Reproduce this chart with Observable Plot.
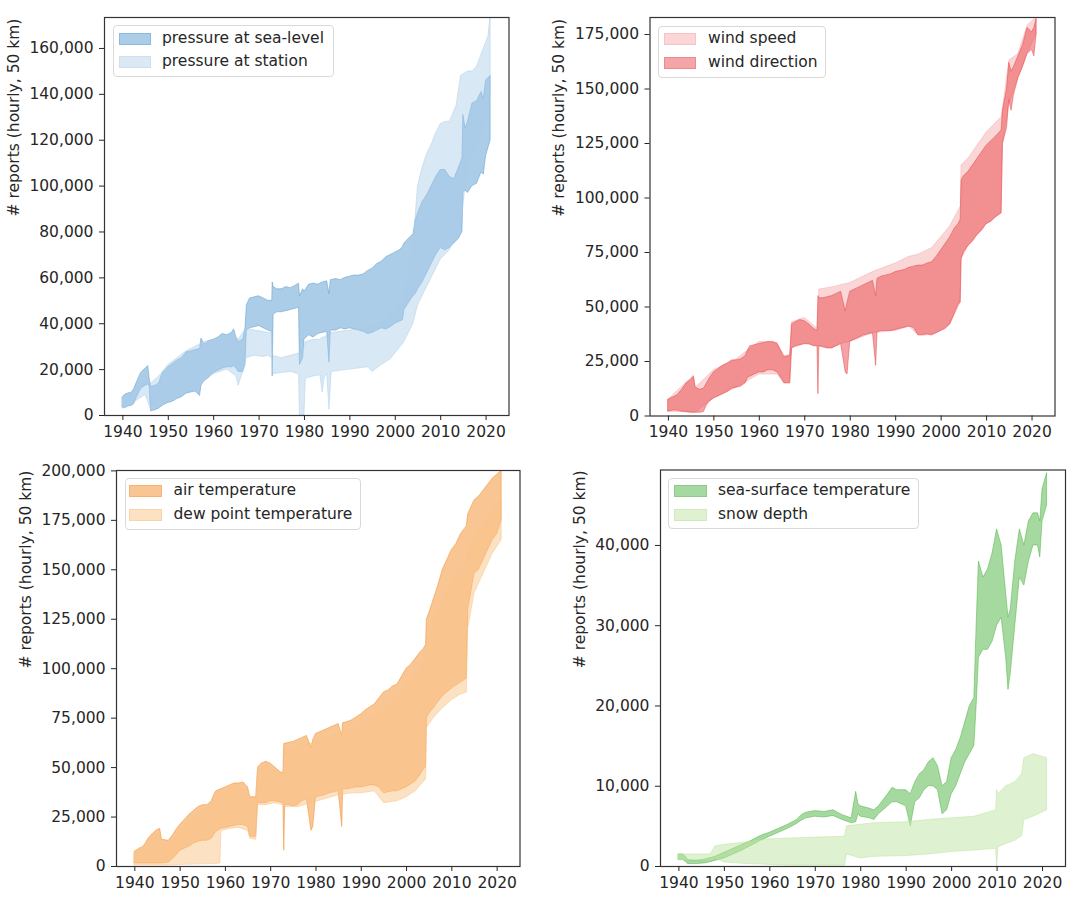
<!DOCTYPE html>
<html><head><meta charset="utf-8">
<script src="https://cdn.jsdelivr.net/npm/d3@7"></script>
<script src="https://cdn.jsdelivr.net/npm/@observablehq/plot@0.6"></script>
<style>
body{margin:0;background:#fff;width:1080px;height:911px;position:relative;overflow:hidden;font-family:"DejaVu Sans",sans-serif;}
.panel{position:absolute;}
.legend{position:absolute;border:1px solid #d9d9d9;border-radius:4px;background:rgba(255,255,255,0.8);box-sizing:border-box;}
.sw{position:absolute;box-sizing:border-box;}
.lt{position:absolute;font-size:15.5px;color:#262626;line-height:1;white-space:nowrap;}
</style></head><body>
<script>
// ---------- data: [year, low, high] ----------
const xTicks = [1940, 1950, 1960, 1970, 1980, 1990, 2000, 2010, 2020];
const yTicks1 = [0, 20000, 40000, 60000, 80000, 100000, 120000, 140000, 160000];
const yTicks2 = [0, 25000, 50000, 75000, 100000, 125000, 150000, 175000];
const yTicks3 = [0, 25000, 50000, 75000, 100000, 125000, 150000, 175000, 200000];
const yTicks4 = [0, 10000, 20000, 30000, 40000];
const yLabel = "# reports (hourly, 50 km)";
const seriesNames = [["pressure at sea-level", "pressure at station"], ["wind speed", "wind direction"], ["air temperature", "dew point temperature"], ["sea-surface temperature", "snow depth"]];

const seaLevel = [
[1940,3500,8000],[1940.5,3200,9000],[1941,3800,9500],[1942,4300,10000],[1942.5,5000,11500],[1943,7500,14000],
[1944,11500,18500],[1945,13000,20500],[1945.6,13500,21500],[1945.9,12500,16000],[1946.2,1800,12500],[1947,2200,12800],
[1948,3000,14000],[1948.5,3800,17000],[1949,4500,19000],[1950,5500,21000],[1951,6000,22500],[1952,7200,24000],
[1953,8000,25000],[1954,9500,27500],[1955,10000,28000],[1956,10500,28500],[1957,8500,29000],[1957.3,13000,33500],
[1958,15000,31000],[1959,16500,32500],[1960,18500,33000],[1961,19500,34000],[1962,20500,35500],[1963,21000,35000],
[1964,21000,36000],[1964.5,21500,37500],[1965,20500,34000],[1965.5,19000,32000],[1966.5,19000,33000],[1967,22000,38000],
[1967.3,37000,48000],[1968,38000,51000],[1969,38500,51500],[1970,39000,52000],[1971,38000,51000],[1972,37000,50000],
[1972.9,36500,50000],[1973,17000,58000],[1973.2,44000,56000],[1974,45000,55000],[1975,45000,55000],[1976,45500,56000],
[1977,46000,55500],[1978,46500,56500],[1978.8,47000,57500],[1979,22000,52000],[1979.7,25000,55000],[1980,33000,54000],
[1981,35000,57000],[1982,34000,57500],[1983,35500,57000],[1984,36000,58000],[1985,36500,58500],[1985.5,23000,53000],
[1985.8,37000,59000],[1987,37000,59500],[1988,38000,59000],[1989,37500,60000],[1990,38000,60500],[1991,37500,61000],
[1992,37000,61000],[1993,36500,61500],[1994,35500,63000],[1995,36000,64000],[1996,37000,66000],[1997,38000,67000],
[1998,37500,69000],[1999,38500,70000],[2000,40000,71000],[2001,41000,72000],[2001.7,41500,73500],[2002,46000,75000],
[2003,49000,77000],[2004,52000,79000],[2004.5,53000,85000],[2005,55000,88000],[2006,58000,93000],[2007,62000,96000],
[2008,66000,100000],[2009,70000,104000],[2010,73000,107000],[2011,72000,107000],[2012,73000,104000],[2013,75000,103000],
[2014,77000,108000],[2014.8,80000,112000],[2015,97000,131000],[2015.5,98000,125000],[2016,97000,128000],[2017,100000,136000],
[2018,101000,137000],[2019,106000,141000],[2019.5,105000,138000],[2020,113000,146000],[2021,120000,148000]
];
const station = [
[1940,3000,8000],[1942,5000,10000],[1943.5,7000,13000],[1945,9000,16000],[1946.2,2500,14000],[1948,4000,17000],
[1950,6000,22000],[1952,8000,25000],[1954,10000,28000],[1956,11000,30000],[1958,15000,32000],[1960,18000,33000],
[1963,20000,35000],[1965,17000,34000],[1965.5,13000,33000],[1966.5,19000,36000],[1967.2,25000,38000],[1969,26000,37000],
[1971,25500,36500],[1972,26000,36000],[1972.9,25000,36000],[1973.1,18000,26000],[1975,18500,25000],[1977,19000,26000],
[1978.8,18000,27000],[1979,0,27000],[1980,0,30000],[1980.3,16000,32000],[1982,17000,33000],[1983.5,17500,33000],
[1984,10000,34000],[1984.5,17000,34000],[1985,18000,35000],[1985.5,2500,35000],[1986,19000,36000],[1988,19500,36500],
[1990,20000,37000],[1992,20500,37500],[1994,21000,38000],[1995,19000,38000],[1997,22000,40000],[1999,24500,43000],
[2000,27000,45000],[2002,32000,50000],[2003,36000,60000],[2004,40000,75000],[2005,48000,100000],[2006,52000,108000],
[2007,56000,114000],[2008,60000,118000],[2009,64000,123000],[2010,68000,127000],[2011,70000,128000],[2012,72000,128000],
[2013.5,78000,135000],[2014.5,82000,148000],[2016,110000,150000],[2017,114000,150000],[2018,118000,152000],[2019.5,125000,160000],
[2020.5,135000,165000],[2021,140000,174000]
];
const windSpeed = [
[1940,2000,7500],[1945.6,1500,18500],[1946,1500,13000],[1950,8000,21000],[1955,13000,26000],[1960,19000,34000],
[1964,19000,33500],[1965.5,15000,27500],[1966.8,15000,28000],[1967.2,31000,43000],[1970,33000,45000],[1972.8,32000,40000],
[1973.2,32000,58000],[1976,31000,59000],[1978,33000,60000],[1980,34000,61000],[1985,38000,66000],[1990,39000,70000],
[1993,41000,73000],[1995,37000,74000],[1998,37000,77000],[2000,39000,82000],[2002,42000,87000],[2004.3,52000,96000],
[2004.5,72000,115000],[2006,78000,118000],[2008,83000,124000],[2010,88000,130000],[2013.3,93000,137000],[2013.6,125000,141000],
[2015,143000,163000],[2017,155000,166000],[2019,166000,179000],[2021,175000,183000]
];
const windDir = [
[1940,2000,7500],[1941,2500,8500],[1942,2500,9500],[1943,2000,12000],[1944,1800,15000],[1945,1500,16500],
[1945.6,1500,18000],[1946,1500,13000],[1947,1500,12000],[1947.8,1800,12500],[1948.5,5000,15000],[1949,6500,17000],
[1950,8000,20000],[1951,9000,21500],[1952,10000,23000],[1953,11000,24000],[1954,12500,25500],[1955,13000,25500],
[1956,13500,26000],[1957,15000,27500],[1957.5,17500,30000],[1958,18000,32000],[1959,19000,32500],[1960,20000,33000],
[1961,20000,33500],[1962,21000,34000],[1963,21000,34000],[1964,20000,33000],[1965,17000,29000],[1965.5,15000,27000],
[1966.8,15000,27500],[1967.2,31000,42000],[1968,32000,43000],[1969,32500,44000],[1970,33000,43500],[1971,33000,42000],
[1972,32000,40000],[1972.8,32000,39000],[1973,10000,55000],[1973.2,32000,54000],[1974,31500,54000],[1975,31000,54500],
[1976,31000,55000],[1977,32000,56000],[1978,33000,57000],[1979,20000,48000],[1979.4,19000,52000],[1980,34000,57000],
[1981,35000,58000],[1982,36000,59000],[1983,37000,60000],[1984,37500,61000],[1985,38000,62000],[1985.7,23000,55000],
[1986,38500,63000],[1987,39000,64000],[1988,39000,64500],[1989,39000,65000],[1990,39500,66000],[1991,40000,66500],
[1992,40500,67000],[1993,41000,68000],[1994,40500,68500],[1995,37000,69000],[1996,37000,69000],[1997,37500,70000],
[1998,37000,70500],[1999,38000,73000],[2000,39000,76000],[2001,40000,79000],[2002,42000,82000],[2003,47000,86000],
[2003.8,51000,88000],[2004.3,52000,90000],[2004.5,72000,108000],[2005,75000,110000],[2006,78000,112000],[2007,80000,115000],
[2008,83000,118000],[2009,85000,121000],[2010,88000,124000],[2011,89000,126000],[2012,91000,128000],[2013.3,93000,131000],
[2013.6,125000,140000],[2014.5,132000,150000],[2015,145000,162000],[2015.5,140000,158000],[2016,147000,160000],
[2017,155000,165000],[2018,160000,170000],[2019,166000,178000],[2020,168000,176000],[2020.5,165000,178000],[2021,175000,182000]
];
const airTemp = [
[1940,1500,7500],[1941,1500,9000],[1942,1500,10000],[1943,1500,14000],[1944,1500,16500],[1945,1500,18500],
[1945.6,1500,19000],[1946,1500,13500],[1947.5,2000,13000],[1948.5,4000,16000],[1949,5000,18000],[1950,8000,21000],
[1951,9000,23500],[1952,10000,26000],[1953,11500,28000],[1954,12500,30000],[1955,13000,31000],[1956,13000,31000],
[1957,14000,33000],[1957.5,16000,36000],[1958,17500,38000],[1959,19000,39000],[1960,19500,40000],[1961,20000,41000],
[1962,20500,42000],[1963,21000,42000],[1964,21000,42500],[1965,20000,40000],[1965.5,15000,35000],[1966.8,15000,35000],
[1967.2,32000,50000],[1968,32000,52000],[1969,32000,53000],[1970,33000,52000],[1971,33000,50000],[1972,32500,48000],
[1972.8,32000,47000],[1973,8000,62000],[1973.2,31000,62000],[1974,31000,62500],[1975,30500,63000],[1976,31000,64000],
[1977,33000,65000],[1978,34000,66000],[1979,18000,60000],[1979.4,20000,64000],[1980,35000,67000],[1981,35500,68000],
[1982,36000,69000],[1983,37000,70000],[1984,37500,71000],[1985,38000,72000],[1985.8,20000,66000],[1986,39000,72500],
[1987,39000,73000],[1988,39500,74000],[1989,40000,75500],[1990,40000,77000],[1991,40500,79000],[1992,41000,80500],
[1993,41000,82000],[1994,40000,85000],[1995,37000,88000],[1996,37500,89000],[1997,38000,91000],[1998,38000,92000],
[1999,39000,96000],[2000,40000,100000],[2001,41500,102000],[2002,43000,105000],[2003,46000,108000],[2003.8,49000,110000],
[2004.3,50000,112000],[2004.5,75000,125000],[2005,77000,128000],[2006,80000,135000],[2007,83000,142000],[2008,86000,150000],
[2009,88000,155000],[2010,90000,160000],[2011,91500,163000],[2012,93000,168000],[2013.3,95000,172000],[2013.6,130000,178000],
[2014,135000,180000],[2015,148000,185000],[2016,150000,187000],[2017,155000,190000],[2018,160000,193000],[2019,165000,196000],
[2020,168000,198000],[2021,175000,200000]
];
const dewPoint = [
[1940,500,6000],[1943.5,500,14000],[1945.6,500,17000],[1946,500,11000],[1948,600,10000],[1950,800,17000],
[1952,900,22000],[1954,1000,27000],[1956,1100,29000],[1957.5,1200,33000],[1958.9,1500,37000],[1959.1,18000,37000],
[1961,19000,39000],[1963,19500,40000],[1965,18000,38000],[1965.5,14000,34000],[1966.8,13500,34000],[1967.2,31000,48000],
[1969,31000,51000],[1971,32000,48000],[1972.8,31000,45000],[1973.2,30000,58000],[1976,30000,60000],[1979,32000,62000],
[1982,34000,64000],[1985,36000,67000],[1988,37000,69000],[1990,37000,71000],[1993,38000,76000],[1995,32000,80000],
[1998,33000,85000],[2000,35000,92000],[2002,38000,97000],[2004.3,44000,104000],[2004.5,70000,112000],[2006,75000,122000],
[2008,80000,135000],[2010,84000,143000],[2012,87000,150000],[2013.3,88000,152000],[2013.6,120000,158000],[2015,138000,165000],
[2017,148000,172000],[2019,158000,178000],[2021,165000,185000]
];
const seaSurface = [
[1940,800,1500],[1941,800,1500],[1941.5,600,1200],[1942,300,800],[1944,300,700],[1946,400,900],[1948,700,1200],
[1950,1000,1700],[1952,1500,2200],[1954,2000,2700],[1956,2600,3200],[1958,3200,3800],[1960,3700,4200],[1962,4200,4700],
[1964,4700,5200],[1966,5300,5800],[1967,5700,6400],[1968,6000,6700],[1970,6200,6900],[1972,6100,6800],[1974,6300,7000],
[1976,5800,6400],[1978,5400,6000],[1979,5500,9300],[1979.5,6500,7800],[1980,6200,7500],[1982,6000,7200],[1983,5800,7000],
[1984,6500,7500],[1986,7500,9000],[1987,8000,9800],[1988,8000,9500],[1990,7500,9500],[1991,5000,9000],[1992,8000,10500],
[1993,8500,11500],[1994,9500,12000],[1995,10000,13000],[1996,10000,13500],[1997,9500,12500],[1998,6500,10000],[1999,7000,10500],
[2000,9000,13500],[2001,10000,14500],[2002,11500,16000],[2003,13000,18000],[2004,14000,20000],[2005,15000,21000],
[2005.5,20000,30000],[2006,26000,38000],[2007,27000,36000],[2008,27000,37000],[2009,28000,39000],[2010,30000,42000],
[2011,31000,40000],[2012,26000,34000],[2012.5,22000,31000],[2013,24000,32000],[2014,30000,38000],[2015,36000,42000],
[2016,35000,40000],[2017,38000,43000],[2018,40000,44000],[2019,40000,44000],[2019.5,38500,43000],[2020,43000,47000],[2021,45000,49000]
];
const snowDepth = [
[1940,800,1500],[1947,800,1500],[1948,1000,2500],[1950,500,2700],[1955,300,3000],[1960,200,3400],[1965,100,3500],
[1970,100,3600],[1976.5,100,3700],[1977,1500,5000],[1980,1000,5200],[1983,1200,5400],[1990,1300,5500],[1995,1500,5800],
[2000,1800,6000],[2005,2000,6200],[2009.8,2200,7000],[2010,0,9500],[2010.3,2400,9000],[2012,2800,10000],[2014,3200,10500],
[2015.5,3800,11500],[2016,5800,13500],[2018,6200,14000],[2021,7000,13500]
];

// ---------- layout ----------
const panels = [
  {left:0, top:0, w:540, h:455, m:[17,31.5,40,104], ymax:173500, yticks:yTicks1, labelDx:-90,
   series:[{data:seaLevel, color:"#5a9bd0", op:0.5},{data:station, color:"#a8cbe8", op:0.45}],
   legend:{x:113, y:25, w:221, h:52, sw:[119,151], tx:162, names:seriesNames[0], sc:["#abcde7","#dce9f5"], se:["#8dbbe0","#cde0f0"]}},
  {left:540, top:0, w:540, h:455, m:[17,25.5,39.5,109.5], ymax:182800, yticks:yTicks2, labelDx:-91,
   series:[{data:windSpeed, color:"#f7a3a6", op:0.45},{data:windDir, color:"#e8484c", op:0.5}],
   legend:{x:658, y:25.5, w:168, h:52, sw:[663.5,696], tx:708, names:seriesNames[1], sc:["#fbd6d7","#f3a5a7"], se:["#f8c3c5","#ee8a8d"]}},
  {left:0, top:455, w:540, h:456, m:[15,20.5,45,116], ymax:200200, yticks:yTicks3, labelDx:-90,
   series:[{data:airTemp, color:"#f48c25", op:0.5},{data:dewPoint, color:"#f9c488", op:0.5}],
   legend:{x:125, y:477.5, w:236, h:52, sw:[129,162], tx:173.5, names:seriesNames[2], sc:["#f9c592","#fce1c3"], se:["#f6b273","#fad3a8"]}},
  {left:540, top:455, w:540, h:456, m:[14.5,15,45,120], ymax:49400, yticks:yTicks4, labelDx:-80,
   series:[{data:seaSurface, color:"#4db342", op:0.5},{data:snowDepth, color:"#bde3a2", op:0.5}],
   legend:{x:668, y:477.5, w:251, h:51, sw:[674,707], tx:718, names:seriesNames[3], sc:["#a6d9a1","#dff1d1"], se:["#8ccb86","#cfe9bc"]}}
];

const fmt = d3.format(",");
for (const p of panels) {
  const chart = Plot.plot({
    width: p.w, height: p.h,
    marginTop: p.m[0], marginRight: p.m[1], marginBottom: p.m[2], marginLeft: p.m[3],
    style: {fontFamily: "DejaVu Sans", fontSize: "15.5px", color: "#262626", background: "transparent", overflow: "visible"},
    x: {domain: [1935.95, 2025.05]},
    y: {domain: [0, p.ymax]},
    marks: [
      ...p.series.map(s => Plot.areaY(s.data, {x: d => d[0], y1: d => d[1], y2: d => d[2],
        fill: s.color, fillOpacity: s.op, stroke: s.color, strokeOpacity: s.op, strokeWidth: 1, clip: true})),
      Plot.frame({stroke: "#333", strokeWidth: 1.2}),
      Plot.axisX(xTicks, {tickSize: 5, tickPadding: 5, tickFormat: d => String(d), label: null, fontSize: 15.5}),
      Plot.axisY(p.yticks, {tickSize: 5, tickPadding: 6, tickFormat: fmt, label: null, fontSize: 15.5}),
      Plot.text([yLabel], {frameAnchor: "left", dx: p.labelDx, rotate: -90, text: d => d, fontSize: 15.5, fill: "#262626"})
    ]
  });
  const div = document.createElement("div");
  div.className = "panel";
  div.style.left = p.left + "px"; div.style.top = p.top + "px";
  div.appendChild(chart);
  document.body.appendChild(div);

  const L = p.legend;
  const box = document.createElement("div");
  box.className = "legend";
  Object.assign(box.style, {left: L.x + "px", top: L.y + "px", width: L.w + "px", height: L.h + "px"});
  document.body.appendChild(box);
  L.names.forEach((name, i) => {
    const cy = L.y + 13.5 + i * 23.5;
    const sw = document.createElement("div");
    sw.className = "sw";
    Object.assign(sw.style, {left: L.sw[0] + "px", top: (cy - 6) + "px", width: (L.sw[1] - L.sw[0]) + "px", height: "12px",
      background: L.sc[i], border: "1px solid " + L.se[i]});
    document.body.appendChild(sw);
    const t = document.createElement("div");
    t.className = "lt";
    t.textContent = name;
    Object.assign(t.style, {left: L.tx + "px", top: (cy - 8) + "px"});
    document.body.appendChild(t);
  });
}
</script>
</body></html>
